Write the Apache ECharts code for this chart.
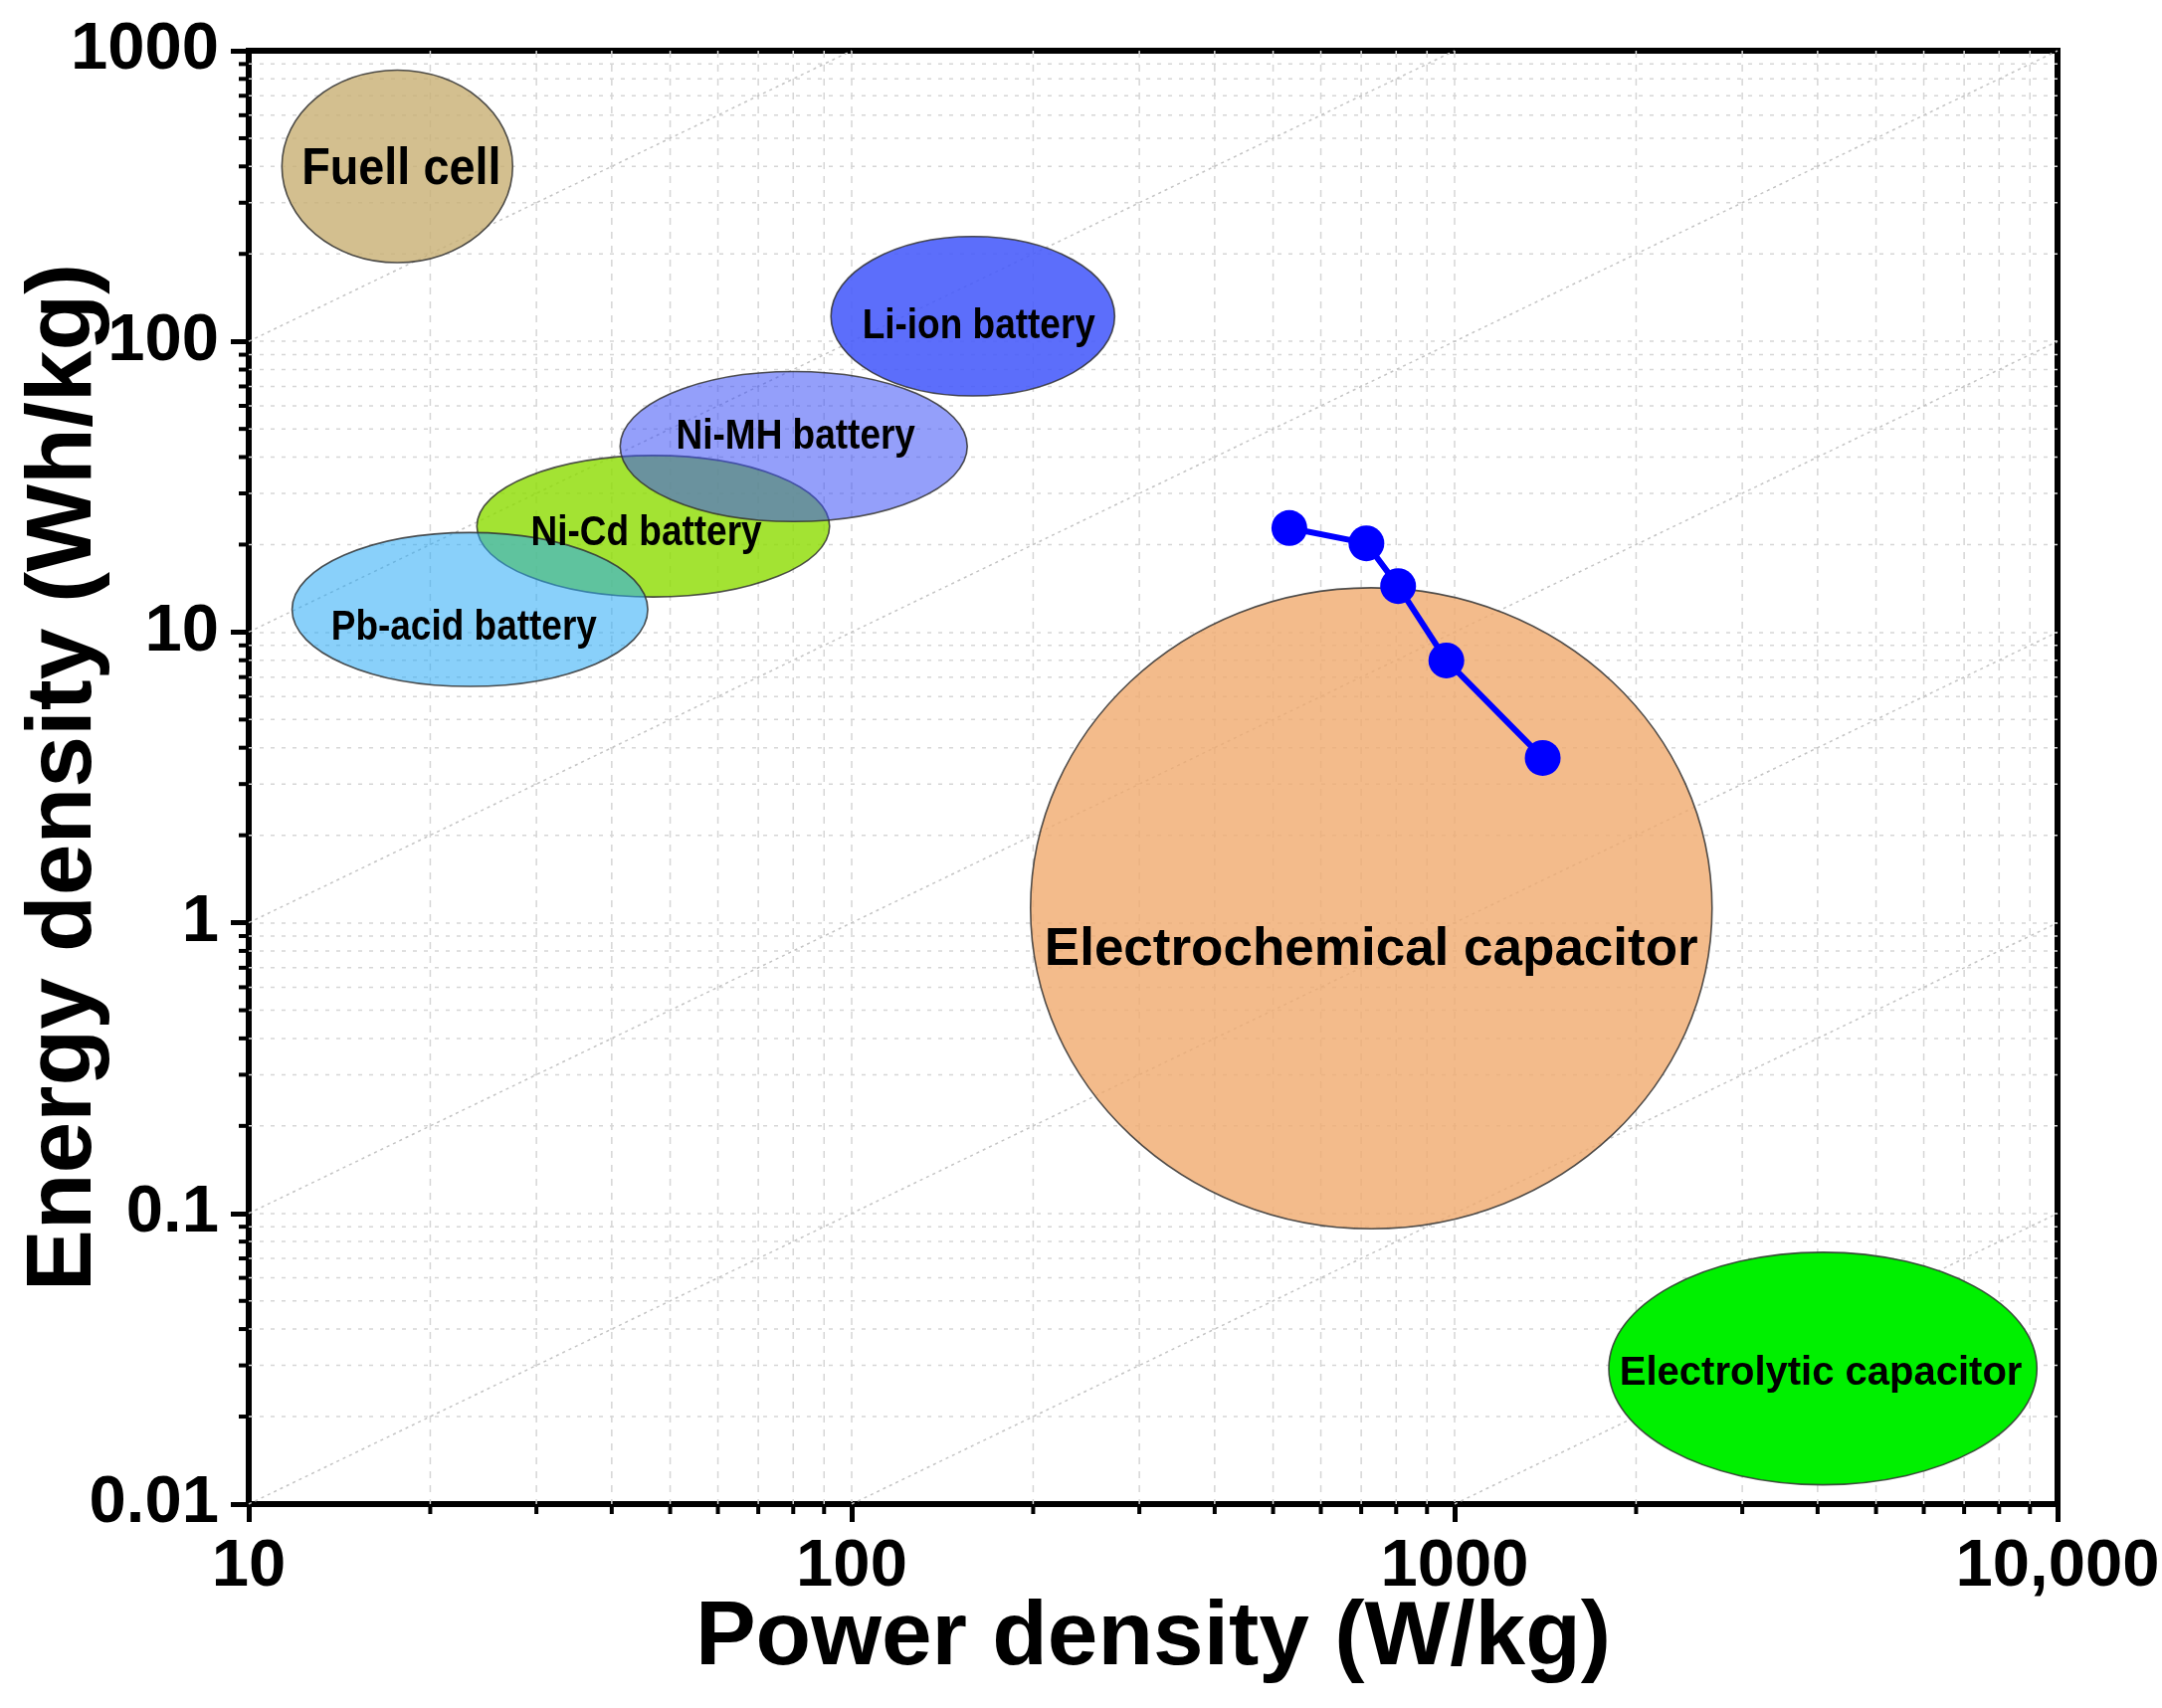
<!DOCTYPE html>
<html><head><meta charset="utf-8">
<script src="https://cdn.jsdelivr.net/npm/echarts@6/dist/echarts.min.js"></script>
<style>html,body{margin:0;padding:0;background:#fff}#chart{width:2173px;height:1717px}</style>
</head><body><div id="chart"></div>
<script>
// ---------- data ----------
const xTickLabels = ['10', '100', '1000', '10,000'];
const yTickLabels = ['0.01', '0.1', '1', '10', '100', '1000'];
const xMinorTicks = [20, 30, 40, 50, 60, 70, 80, 90, 200, 300, 400, 500, 600, 700, 800, 900, 2000, 3000, 4000, 5000, 6000, 7000, 8000, 9000];
const yMinorTicks = [0.02, 0.03, 0.04, 0.05, 0.06, 0.07, 0.08, 0.09, 0.2, 0.3, 0.4, 0.5, 0.6, 0.7, 0.8, 0.9, 2, 3, 4, 5, 6, 7, 8, 9, 20, 30, 40, 50, 60, 70, 80, 90, 200, 300, 400, 500, 600, 700, 800, 900];

const regionNames = ['Electrochemical capacitor', 'Electrolytic capacitor', 'Fuell cell', 'Ni-Cd battery', 'Pb-acid battery', 'Ni-MH battery', 'Li-ion battery'];
const regionPower = [[198, 2673], [1802, 9243], [11.35, 27.4], [23.9, 91.9], [11.8, 45.9], [41.3, 155.5], [92.4, 273]];
const regionEnergy = [[0.0885, 14.2], [0.01165, 0.0735], [186.6, 858], [13.2, 40.5], [6.5, 22.0], [24.0, 78.8], [64.9, 229.6]];

const samplePower = [532, 714, 806, 969, 1400];
const sampleEnergy = [22.8, 20.2, 14.4, 7.99, 3.69];

// constant-time reference lines (endpoints)
const refLineStart = [[10, 100], [10, 10], [10, 1], [10, 0.1], [10, 0.01], [100, 0.01], [1000, 0.01]];
const refLineEnd = [[100, 1000], [1000, 1000], [10000, 1000], [10000, 100], [10000, 10], [10000, 1], [10000, 0.1]];

// ---------- styles ----------
const regionStyles = [
  { fill: 'rgba(240,170,110,0.8)', size: 53, sx: 1, dx: 0, dy: 42 },
  { fill: 'rgb(0,240,0)', size: 40, sx: 1, dx: -2, dy: 5 },
  { fill: 'rgba(200,175,115,0.8)', size: 52, sx: 0.9, dx: 4, dy: 3 },
  { fill: 'rgba(140,220,0,0.8)', size: 43, sx: 0.86, dx: -7, dy: 7 },
  { fill: 'rgba(40,170,245,0.55)', size: 43, sx: 0.86, dx: -6, dy: 18 },
  { fill: 'rgba(60,80,245,0.55)', size: 43, sx: 0.86, dx: 2, dy: -10 },
  { fill: 'rgba(70,90,250,0.88)', size: 43, sx: 0.86, dx: 6, dy: 10 }
];
const X_MIN = 10, X_MAX = 10000, Y_MIN = 0.01, Y_MAX = 1000;
const gridColor = '#d6d6d6';
const FONT = 'Liberation Sans, Arial, sans-serif';

const chart = echarts.init(document.getElementById('chart'));

const series = [];
// minor vertical grid + ticks
series.push({
  type: 'custom', z: 1, silent: true, clip: false,
  data: xMinorTicks.map(v => [v, Y_MIN]),
  encode: { x: 0, y: 1 },
  renderItem: function (params, api) {
    const v = api.value(0);
    const pb = api.coord([v, Y_MIN]);
    const pt = api.coord([v, Y_MAX]);
    return { type: 'group', children: [
      { type: 'line', shape: { x1: pb[0], y1: pt[1], x2: pb[0], y2: pb[1] }, style: { stroke: gridColor, lineWidth: 1.5, lineDash: [7, 7] } },
      { type: 'line', shape: { x1: pb[0], y1: pb[1], x2: pb[0], y2: pb[1] + 10 }, style: { stroke: '#000', lineWidth: 4 } }
    ] };
  }
});
// minor horizontal grid + ticks
series.push({
  type: 'custom', z: 1, silent: true, clip: false,
  data: yMinorTicks.map(v => [X_MIN, v]),
  encode: { x: 0, y: 1 },
  renderItem: function (params, api) {
    const v = api.value(1);
    const pl = api.coord([X_MIN, v]);
    const pr = api.coord([X_MAX, v]);
    return { type: 'group', children: [
      { type: 'line', shape: { x1: pl[0], y1: pl[1], x2: pr[0], y2: pl[1] }, style: { stroke: gridColor, lineWidth: 1.5, lineDash: [4, 7] } },
      { type: 'line', shape: { x1: pl[0] - 10, y1: pl[1], x2: pl[0], y2: pl[1] }, style: { stroke: '#000', lineWidth: 4 } }
    ] };
  }
});
// reference lines
refLineStart.forEach((s, i) => {
  series.push({
    type: 'line', z: 1, silent: true, symbol: 'none', animation: false,
    data: [s, refLineEnd[i]],
    lineStyle: { color: '#c4c4c4', width: 1.5, type: [3, 4] }
  });
});
// regions
series.push({
  type: 'custom', z: 2, clip: false,
  dimensions: ['pLo', 'pHi', 'eLo', 'eHi'],
  encode: { x: [0, 1], y: [2, 3] },
  data: regionNames.map((n, i) => [regionPower[i][0], regionPower[i][1], regionEnergy[i][0], regionEnergy[i][1]]),
  renderItem: function (params, api) {
    const i = params.dataIndex;
    const p0 = api.coord([api.value(0), api.value(2)]);
    const p1 = api.coord([api.value(1), api.value(3)]);
    const cx = (p0[0] + p1[0]) / 2, cy = (p0[1] + p1[1]) / 2;
    const rx = Math.abs(p1[0] - p0[0]) / 2, ry = Math.abs(p1[1] - p0[1]) / 2;
    const st = regionStyles[i];
    return { type: 'group', children: [
      { type: 'ellipse', z2: i, shape: { cx: cx, cy: cy, rx: rx, ry: ry }, style: { fill: st.fill, stroke: 'rgba(50,50,50,0.85)', lineWidth: 1.6 } },
      { type: 'text', z2: 100, x: cx + st.dx, y: cy + st.dy, scaleX: st.sx, scaleY: 1,
        style: { text: regionNames[i], fill: '#000', fontFamily: FONT, fontWeight: 'bold', fontSize: st.size, align: 'center', verticalAlign: 'middle' } }
    ] };
  }
});
// measured sample
series.push({
  type: 'line', z: 5, symbol: 'circle', symbolSize: 36,
  data: samplePower.map((p, i) => [p, sampleEnergy[i]]),
  lineStyle: { color: '#0000ff', width: 6 },
  itemStyle: { color: '#0000ff' }
});

const labelFont = { fontFamily: FONT, fontWeight: 'bold', fontSize: 67, color: '#000' };
chart.setOption({
  animation: false,
  backgroundColor: '#fff',
  grid: { left: 250, right: 105, top: 51, bottom: 205, containLabel: false, outerBoundsMode: 'none', show: true, borderColor: '#000', borderWidth: 6, backgroundColor: 'transparent' },
  xAxis: {
    type: 'log', logBase: 10, min: X_MIN, max: X_MAX,
    name: 'Power density (W/kg)', nameLocation: 'middle', nameGap: 90, nameMoveOverlap: false,
    nameTextStyle: { fontFamily: FONT, fontWeight: 'bold', fontSize: 91, color: '#000' },
    axisLine: { show: true, onZero: false, lineStyle: { color: '#000', width: 5 } },
    axisTick: { show: true, inside: false, length: 18, lineStyle: { color: '#000', width: 5 } },
    axisLabel: Object.assign({ margin: 30, formatter: v => xTickLabels[Math.round(Math.log10(v)) - 1] }, labelFont),
    splitLine: { show: true, showMinLine: false, showMaxLine: false, lineStyle: { color: gridColor, width: 1.5, type: [7, 7] } }
  },
  yAxis: {
    type: 'log', logBase: 10, min: Y_MIN, max: Y_MAX,
    name: 'Energy density (Wh/kg)', nameLocation: 'middle', nameGap: 138, nameRotate: 90, nameMoveOverlap: false,
    nameTextStyle: { fontFamily: FONT, fontWeight: 'bold', fontSize: 93, color: '#000' },
    axisLine: { show: true, onZero: false, lineStyle: { color: '#000', width: 5 } },
    axisTick: { show: true, inside: false, length: 18, lineStyle: { color: '#000', width: 5 } },
    axisLabel: Object.assign({ margin: 30, formatter: v => yTickLabels[Math.round(Math.log10(v)) + 2] }, labelFont),
    splitLine: { show: true, showMinLine: false, showMaxLine: false, lineStyle: { color: gridColor, width: 1.5, type: [4, 7] } }
  },
  series: series
});
</script></body></html>
